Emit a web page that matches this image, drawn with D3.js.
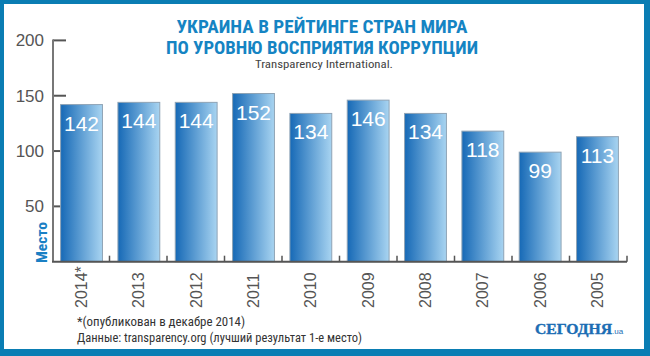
<!DOCTYPE html>
<html><head><meta charset="utf-8">
<script src="https://cdn.jsdelivr.net/npm/d3@7/dist/d3.min.js"></script>
<style>body{margin:0;background:#fff}svg{display:block}</style>
</head><body>
<svg id="c" width="650" height="356"></svg>
<script>
const years = ["2014*","2013","2012","2011","2010","2009","2008","2007","2006","2005"];
const values = [142,144,144,152,134,146,134,118,99,113];
const yTicks = [50,100,150,200];
const titleLines = ["УКРАИНА В РЕЙТИНГЕ СТРАН МИРА","ПО УРОВНЮ ВОСПРИЯТИЯ КОРРУПЦИИ"];
const subtitle = "Transparency International.";
const yTitle = "Место";
const notes = ["*(опубликован в декабре 2014)","Данные: transparency.org (лучший результат 1-е место)"];

const svg = d3.select("#c");
const frameBlue = "#0a7db3", titleBlue = "#1584c3";
svg.append("rect").attr("width",650).attr("height",356).attr("fill",frameBlue);
svg.append("rect").attr("x",4).attr("y",4).attr("width",640).attr("height",345).attr("fill","#fff");

const defs = svg.append("defs");
const g = defs.append("linearGradient").attr("id","bg").attr("x1","0").attr("x2","1").attr("y1","0").attr("y2","0");
g.append("stop").attr("offset","0").attr("stop-color","#1669b6");
g.append("stop").attr("offset","1").attr("stop-color","#a8d4f1");

const x = d3.scaleBand().domain(years).range([52,627]).paddingInner(0.27).paddingOuter(0.15);
const y = d3.scaleLinear().domain([0,200]).range([261.7,40.4]);

// title
const condensed = "'Liberation Sans Narrow','Arial Narrow','Roboto Condensed','Liberation Sans',Arial,sans-serif";
const tw = [291,312];
titleLines.forEach((t,i)=>{
  svg.append("text").attr("x",322).attr("y",[33,54][i]).attr("text-anchor","middle")
    .attr("font-family",condensed).attr("font-weight","bold").attr("font-size",17.5)
    .attr("fill",titleBlue).attr("textLength",tw[i]).attr("lengthAdjust","spacingAndGlyphs").text(t);
});
svg.append("text").attr("x",324).attr("y",68).attr("text-anchor","middle")
  .attr("font-family",condensed).attr("font-size",11).attr("fill","#444")
  .attr("textLength",138).attr("lengthAdjust","spacingAndGlyphs").text(subtitle);

// y axis ticks (inward, behind bars)
const yAx = svg.append("g");
yTicks.forEach(v=>{
  yAx.append("line").attr("x1",53).attr("x2",66).attr("y1",y(v)).attr("y2",y(v)).attr("stroke","#555").attr("stroke-width",2);
  yAx.append("text").attr("x",44).attr("y",y(v)).attr("dy","0.35em").attr("text-anchor","end")
    .attr("font-family","'Liberation Sans',Arial,sans-serif").attr("font-size",17).attr("fill","#555").text(v);
});
yAx.append("line").attr("x1",53).attr("x2",53).attr("y1",y(200)-1).attr("y2",y(0)).attr("stroke","#777").attr("stroke-width",2);

// bars
svg.append("g").selectAll("rect").data(values).join("rect")
  .attr("x",(d,i)=>x(years[i])).attr("y",d=>y(d))
  .attr("width",x.bandwidth()).attr("height",d=>y(0)-y(d))
  .attr("fill","url(#bg)").attr("stroke","#8ea3b5").attr("stroke-width",1);

// value labels
svg.append("g").selectAll("text").data(values).join("text")
  .attr("x",(d,i)=>x(years[i])+x.bandwidth()/2).attr("y",d=>y(d)+26)
  .attr("text-anchor","middle").attr("font-family","'Liberation Sans',Arial,sans-serif")
  .attr("font-size",21).attr("fill","#fff").text(d=>d);

// x axis
svg.append("line").attr("x1",52).attr("x2",627).attr("y1",y(0)).attr("y2",y(0)).attr("stroke","#555").attr("stroke-width",2);
d3.range(1,years.length+1).forEach(i=>{
  const xx = 52 + (575/years.length)*i;
  svg.append("line").attr("x1",xx).attr("x2",xx).attr("y1",y(0)).attr("y2",y(0)-6).attr("stroke","#555").attr("stroke-width",1.5);
});
svg.append("g").selectAll("text").data(years).join("text")
  .attr("transform",d=>`translate(${x(d)+x.bandwidth()/2},308) rotate(-90)`)
  .attr("dy","0.35em").attr("text-anchor","start")
  .attr("font-family","'Liberation Sans',Arial,sans-serif").attr("font-size",16).attr("fill","#555").text(d=>d);

// y title
svg.append("text").attr("transform","translate(42,263) rotate(-90)").attr("dy","0.35em")
  .attr("text-anchor","start").attr("font-family",condensed).attr("font-weight","bold")
  .attr("font-size",15).attr("fill","#1a80c4").attr("textLength",41).attr("lengthAdjust","spacingAndGlyphs").text(yTitle);

// notes
const nw = [168,285];
notes.forEach((t,i)=>{
  svg.append("text").attr("x",77).attr("y",[326,342][i]).attr("font-family",condensed)
    .attr("font-size",12).attr("fill","#333").attr("textLength",nw[i]).attr("lengthAdjust","spacingAndGlyphs").text(t);
});

// logo
svg.append("text").attr("x",535).attr("y",334).attr("font-family","'Liberation Serif','DejaVu Serif',serif")
  .attr("font-weight","bold").attr("font-size",14).attr("fill","#1b6db4")
  .attr("stroke","#1b6db4").attr("stroke-width",0.4)
  .attr("textLength",77).attr("lengthAdjust","spacingAndGlyphs").text("СЕГОДНЯ");
svg.append("text").attr("x",612).attr("y",334).attr("font-family","'Liberation Sans',Arial,sans-serif")
  .attr("font-size",8).attr("fill","#1b6db4").text(".ua");
</script>
</body></html>
